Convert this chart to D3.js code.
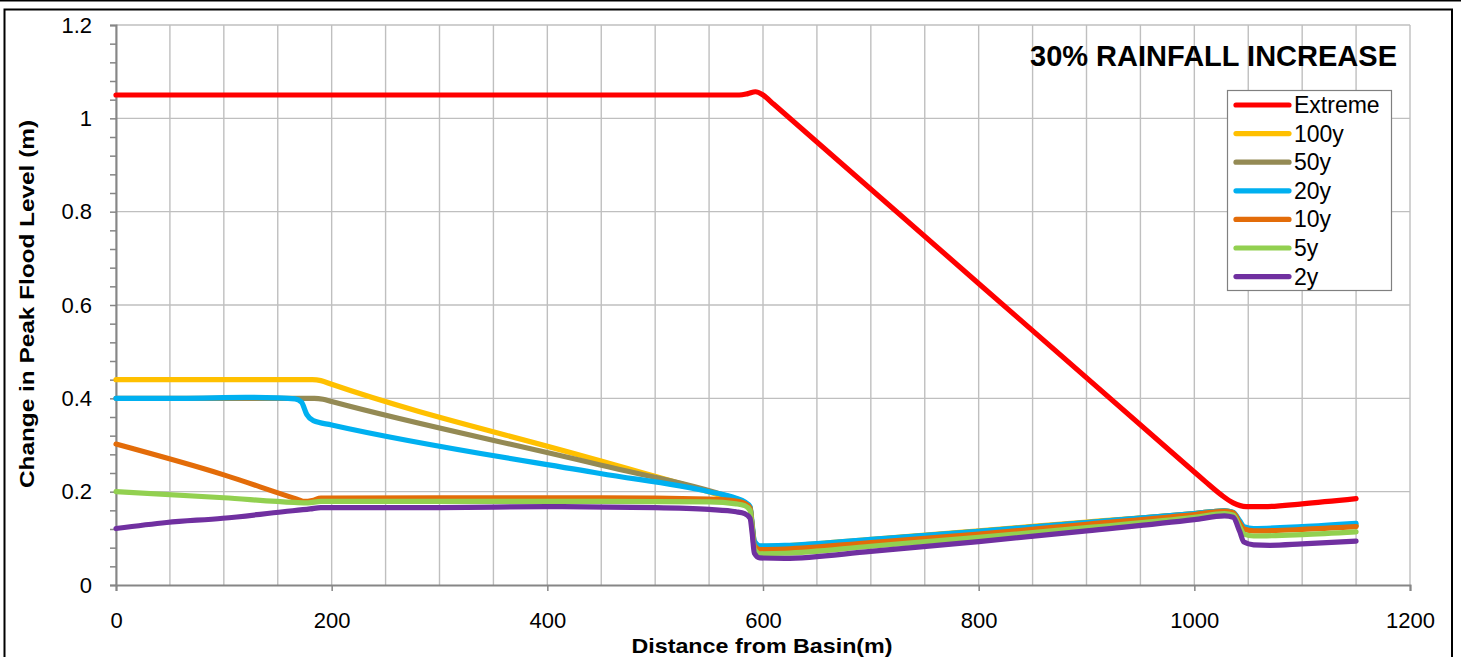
<!DOCTYPE html>
<html>
<head>
<meta charset="utf-8">
<script src="https://cdn.jsdelivr.net/npm/d3@7"></script>
<style>
body { margin: 0; background: #fff; }
text { font-family: "Liberation Sans", Arial, sans-serif; fill: #000; }
</style>
</head>
<body>
<svg id="chart" width="1461" height="657"></svg>
<script>
// series, in legend / drawing order
const seriesNames = ["Extreme", "100y", "50y", "20y", "10y", "5y", "2y"];
const seriesColors = ["#ff0000", "#ffc000", "#948a54", "#00b0f0", "#e36c09", "#92d050", "#7030a0"];

// [distance (m), change in peak level (m)]
const extreme = [[0,1.05],[578,1.05],[586,1.053],[593,1.057],[600,1.05],[610,1.03],[1000,0.242],[1010,0.222],[1025,0.193],[1036,0.176],[1048,0.168],[1065,0.168],[1100,0.174],[1150,0.185]];
const y100 = [[0,0.44],[182,0.44],[190,0.438],[200,0.43],[449,0.266],[570,0.185],[582,0.176],[588,0.165],[590,0.125],[592,0.092],[597,0.083],[620,0.084],[700,0.098],[800,0.116],[900,0.135],[1000,0.153],[1028,0.159],[1036,0.155],[1042,0.135],[1046,0.122],[1055,0.118],[1100,0.122],[1150,0.128]];
const y50 = [[0,0.40],[184,0.40],[192,0.398],[200,0.393],[449,0.257],[570,0.188],[582,0.178],[588,0.166],[590,0.125],[592,0.092],[597,0.082],[620,0.083],[700,0.097],[800,0.115],[900,0.134],[1000,0.153],[1028,0.159],[1036,0.155],[1042,0.135],[1046,0.121],[1055,0.117],[1100,0.121],[1150,0.127]];
const y20 = [[0,0.40],[60,0.40],[120,0.402],[150,0.401],[166,0.399],[172,0.392],[177,0.365],[183,0.352],[200,0.343],[449,0.239],[550,0.2],[575,0.186],[583,0.178],[588,0.168],[590,0.13],[592,0.094],[597,0.084],[620,0.085],[700,0.098],[800,0.115],[900,0.134],[1000,0.153],[1028,0.159],[1036,0.156],[1042,0.138],[1046,0.125],[1055,0.121],[1100,0.125],[1150,0.132]];
const y10 = [[0,0.302],[100,0.236],[168,0.184],[175,0.179],[182,0.181],[190,0.186],[300,0.187],[450,0.187],[550,0.184],[575,0.18],[583,0.175],[588,0.165],[590,0.125],[592,0.085],[597,0.076],[620,0.077],[700,0.091],[800,0.109],[900,0.13],[1000,0.151],[1028,0.158],[1036,0.155],[1042,0.133],[1046,0.12],[1055,0.116],[1100,0.119],[1150,0.125]];
const y5 = [[0,0.2],[100,0.187],[165,0.177],[178,0.176],[190,0.179],[450,0.179],[550,0.178],[575,0.174],[583,0.17],[588,0.16],[590,0.12],[592,0.077],[597,0.067],[620,0.068],[700,0.083],[800,0.102],[900,0.123],[1000,0.145],[1028,0.153],[1036,0.15],[1042,0.125],[1046,0.109],[1055,0.105],[1100,0.108],[1150,0.114]];
const y2 = [[0,0.121],[47,0.134],[99,0.143],[155,0.157],[180,0.163],[190,0.166],[300,0.166],[400,0.168],[500,0.166],[550,0.162],[575,0.157],[583,0.153],[588,0.143],[590,0.11],[592,0.068],[597,0.058],[620,0.057],[700,0.072],[800,0.093],[900,0.116],[1000,0.14],[1028,0.148],[1036,0.145],[1042,0.115],[1046,0.092],[1055,0.086],[1070,0.085],[1100,0.088],[1150,0.094]];
const seriesData = [extreme, y100, y50, y20, y10, y5, y2];

const xTicks = [0, 200, 400, 600, 800, 1000, 1200];
const xGrid = d3.range(0, 1201, 50);
const yTicks = [0, 0.2, 0.4, 0.6, 0.8, 1, 1.2];
const yTickLabels = ["0", "0.2", "0.4", "0.6", "0.8", "1", "1.2"];
const yMinor = d3.range(0, 31).map(i => i * 0.04);

const svg = d3.select("#chart");

// outer frame
svg.append("line").attr("x1", 0).attr("x2", 1461).attr("y1", 0.8).attr("y2", 0.8)
    .attr("stroke", "#000").attr("stroke-width", 1.6);
svg.append("rect").attr("x", 4.5).attr("y", 9.5).attr("width", 1447.5).attr("height", 660)
    .attr("fill", "none").attr("stroke", "#000").attr("stroke-width", 2);

const x = d3.scaleLinear().domain([0, 1200]).range([116, 1410]);
const y = d3.scaleLinear().domain([0, 1.2]).range([585, 25]);

// gridlines
const grid = svg.append("g").attr("stroke", "#bfbfbf").attr("stroke-width", 1.4);
grid.selectAll(".vg").data(xGrid).enter().append("line")
    .attr("x1", d => x(d)).attr("x2", d => x(d))
    .attr("y1", y(1.2)).attr("y2", y(0));
grid.selectAll(".hg").data(yTicks.slice(1)).enter().append("line")
    .attr("x1", x(0)).attr("x2", x(1200))
    .attr("y1", d => y(d)).attr("y2", d => y(d));

// axes
const yAxis = d3.axisLeft(y).tickValues(yMinor).tickSize(6).tickPadding(18)
    .tickFormat((d, i) => i % 5 === 0 ? yTickLabels[i / 5] : "");
const gy = svg.append("g").attr("transform", "translate(" + x(0) + ",0)").call(yAxis);
const xAxis = d3.axisBottom(x).tickValues(xTicks).tickSize(6).tickPadding(21)
    .tickFormat(d3.format("d"));
const gx = svg.append("g").attr("transform", "translate(0," + y(0) + ")").call(xAxis);
[gx, gy].forEach(g => {
    g.select(".domain").attr("stroke", "#868686").attr("stroke-width", 2);
    g.selectAll(".tick line").attr("stroke", "#868686").attr("stroke-width", 1.5);
    g.selectAll(".tick text").attr("font-size", 22)
        .style("font-family", "'Liberation Sans', Arial, sans-serif").attr("fill", "#000");
});

// series lines
const line = d3.line().x(d => x(d[0])).y(d => y(d[1])).curve(d3.curveMonotoneX);
svg.append("g").selectAll("path").data(seriesData).enter().append("path")
    .attr("d", line)
    .attr("fill", "none")
    .attr("stroke", (d, i) => seriesColors[i])
    .attr("stroke-width", 5.2)
    .attr("stroke-linejoin", "round")
    .attr("stroke-linecap", "round");

// titles
svg.append("text").attr("x", 1397).attr("y", 66).attr("text-anchor", "end")
    .attr("font-size", 29).attr("font-weight", "bold")
    .attr("textLength", 367).attr("lengthAdjust", "spacingAndGlyphs")
    .text("30% RAINFALL INCREASE");
svg.append("text").attr("x", 762).attr("y", 653).attr("text-anchor", "middle")
    .attr("font-size", 21).attr("font-weight", "bold")
    .attr("textLength", 261).attr("lengthAdjust", "spacingAndGlyphs")
    .text("Distance from Basin(m)");
svg.append("text").attr("transform", "translate(34,304) rotate(-90)")
    .attr("text-anchor", "middle")
    .attr("font-size", 21).attr("font-weight", "bold")
    .attr("textLength", 368).attr("lengthAdjust", "spacingAndGlyphs")
    .text("Change in Peak Flood Level (m)");

// legend
const legend = svg.append("g");
legend.append("rect").attr("x", 1227.5).attr("y", 90.5).attr("width", 164).attr("height", 200)
    .attr("fill", "#fff").attr("stroke", "#808080").attr("stroke-width", 1.2);
const rows = legend.selectAll(".row").data(seriesNames).enter().append("g")
    .attr("transform", (d, i) => "translate(0," + (105 + i * 28.6) + ")");
rows.append("line").attr("x1", 1236).attr("x2", 1289).attr("y1", 0).attr("y2", 0)
    .attr("stroke", (d, i) => seriesColors[i]).attr("stroke-width", 5.2)
    .attr("stroke-linecap", "round");
rows.append("text").attr("x", 1294).attr("y", 8).attr("font-size", 23).text(d => d);
</script>
</body>
</html>
